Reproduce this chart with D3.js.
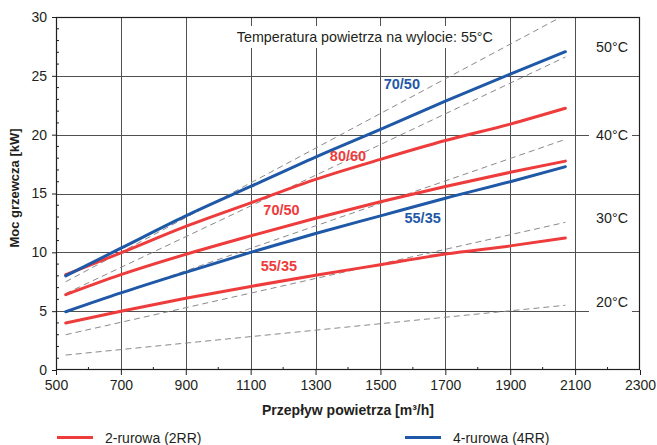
<!DOCTYPE html>
<html>
<head>
<meta charset="utf-8">
<script src="https://cdn.jsdelivr.net/npm/d3@7"></script>
<style>
  html, body { margin: 0; padding: 0; background: #fff; }
  svg { display: block; font-family: "Liberation Sans", Arial, sans-serif; }
</style>
</head>
<body>
<svg id="chart" width="657" height="445"></svg>
<script>
// Airflow points at which the heater output was read [m³/h]
const flow = [530, 700, 900, 1100, 1300, 1500, 1700, 1900, 2070];

// Heating output [kW], 2-pipe heater (2RR)
const red8060 = [8.1, 9.95, 12.2, 14.2, 16.2, 17.9, 19.5, 20.9, 22.24];
const red7050 = [6.4, 8.1, 9.83, 11.4, 12.9, 14.3, 15.6, 16.8, 17.75];
const red5535 = [4.0, 5.0, 6.1, 7.1, 8.05, 8.95, 9.85, 10.55, 11.22];

// Heating output [kW], 4-pipe heater (4RR)
const blue7050 = [8.0, 10.35, 13.1, 15.6, 18.1, 20.45, 22.85, 25.15, 27.05];
const blue5535 = [4.95, 6.55, 8.3, 10.0, 11.6, 13.1, 14.6, 16.0, 17.28];

// Constant outlet air temperature lines (output at the first and last flow)
const isoFlow = [530, 2070];
const iso55 = [7.5, 30.2];
const iso50 = [6.5, 26.6];
const iso40 = [4.9, 19.6];
const iso30 = [3.0, 12.55];
const iso20 = [1.27, 5.5];

// Axis ticks
const xTicks = [500, 700, 900, 1100, 1300, 1500, 1700, 1900, 2100, 2300];
const yTicks = [0, 5, 10, 15, 20, 25, 30];

const RED = "#ee3b3b", BLUE = "#1f58a7", GRID = "#505050", DASH = "#8a8a8a";

const svg = d3.select("#chart");
const L = 56, R = 640, T = 17, B = 370;

const x = d3.scaleLinear().domain([500, 2300]).range([L, R]);
const y = d3.scaleLinear().domain([0, 30]).range([B, T]);

svg.append("defs").append("clipPath").attr("id", "plot")
  .append("rect").attr("x", L).attr("y", T).attr("width", R - L).attr("height", B - T);

// Grid
const grid = svg.append("g").attr("stroke", GRID).attr("stroke-width", 1);
xTicks.slice(1, -1).forEach(v => {
  grid.append("line").attr("x1", Math.round(x(v)) + 0.5).attr("x2", Math.round(x(v)) + 0.5)
    .attr("y1", T).attr("y2", B);
});
yTicks.slice(1, -1).forEach(v => {
  grid.append("line").attr("x1", L).attr("x2", R)
    .attr("y1", Math.round(y(v)) + 0.5).attr("y2", Math.round(y(v)) + 0.5);
});

// Title box inside the plot
const title = "Temperatura powietrza na wylocie: 55°C";
svg.append("rect").attr("x", 233).attr("y", 26).attr("width", 263).attr("height", 22).attr("fill", "#fff");
svg.append("text").attr("x", x(1452)).attr("y", y(28.3)).attr("dy", "0.35em")
  .attr("text-anchor", "middle").attr("font-size", 14.3).attr("fill", "#231f20").text(title);

// Outlet temperature labels on the right, with a white patch over the grid
const tempLabels = [["50°C", 27.45], ["40°C", 20.0], ["30°C", 12.92], ["20°C", 5.8]];
tempLabels.forEach(([t, v]) => {
  svg.append("rect").attr("x", 589).attr("y", y(v) - 10).attr("width", 43)
    .attr("height", t === "20°C" ? 24 : 20).attr("fill", "#fff");
  svg.append("text").attr("x", x(2214)).attr("y", y(v)).attr("dy", "0.36em")
    .attr("text-anchor", "middle").attr("font-size", 14.3).attr("fill", "#231f20").text(t);
});

const plot = svg.append("g").attr("clip-path", "url(#plot)");

// Dashed constant-temperature lines
const straight = d3.line().x(d => x(d[0])).y(d => y(d[1]));
[iso55, iso50, iso40, iso30, iso20].forEach(vals => {
  plot.append("path").datum(isoFlow.map((f, i) => [f, vals[i]]))
    .attr("d", straight).attr("fill", "none").attr("stroke", DASH)
    .attr("stroke-width", 1).attr("stroke-dasharray", "6,4");
});

// Heater output curves
const curve = d3.line().x(d => x(d[0])).y(d => y(d[1])).curve(d3.curveMonotoneX);
[[red5535, RED], [red7050, RED], [blue5535, BLUE], [red8060, RED], [blue7050, BLUE]].forEach(([vals, c]) => {
  plot.append("path").datum(flow.map((f, i) => [f, vals[i]]))
    .attr("d", curve).attr("fill", "none").attr("stroke", c)
    .attr("stroke-width", 3).attr("stroke-linecap", "round");
});

// Curve labels (supply/return water temperature)
const curveLabels = [
  ["70/50", 1566, 24.3, BLUE],
  ["80/60", 1400, 18.19, RED],
  ["70/50", 1195, 13.6, RED],
  ["55/35", 1630, 12.9, BLUE],
  ["55/35", 1187, 8.84, RED]
];
curveLabels.forEach(([t, fx, fy, c]) => {
  svg.append("text").attr("x", x(fx)).attr("y", y(fy)).attr("dy", "0.36em")
    .attr("text-anchor", "middle").attr("font-size", 14.5).attr("font-weight", "bold")
    .attr("fill", c).text(t);
});

// Axes
const axisColor = "#231f20";
const xAxis = svg.append("g").attr("transform", `translate(0,${B})`)
  .call(d3.axisBottom(x).tickValues(xTicks).tickSize(5).tickPadding(5).tickFormat(d3.format("d")));
const yAxis = svg.append("g").attr("transform", `translate(${L},0)`)
  .call(d3.axisLeft(y).tickValues(yTicks).tickSize(4).tickPadding(5));
[xAxis, yAxis].forEach(a => {
  a.select(".domain").remove();
  a.selectAll("line").attr("stroke", axisColor);
  a.selectAll("text").attr("font-size", 14).attr("fill", axisColor)
    .attr("font-family", "Liberation Sans, Arial, sans-serif");
});

// Minor ticks pointing into the plot
const minorX = d3.range(600, 2300, 200);
svg.append("g").selectAll("line").data(minorX).join("line")
  .attr("x1", d => x(d)).attr("x2", d => x(d)).attr("y1", B).attr("y2", B - 3)
  .attr("stroke", axisColor);
const minorY = d3.range(1, 30).filter(v => v % 5 !== 0);
svg.append("g").selectAll("line").data(minorY).join("line")
  .attr("x1", L).attr("x2", L + 3).attr("y1", d => y(d)).attr("y2", d => y(d))
  .attr("stroke", axisColor);

// Frame
svg.append("rect").attr("x", L + 0.5).attr("y", T + 0.5).attr("width", R - L - 1).attr("height", B - T - 1)
  .attr("fill", "none").attr("stroke", axisColor).attr("stroke-width", 1.2);

// Axis titles
svg.append("text").attr("x", (L + R) / 2).attr("y", 415).attr("text-anchor", "middle")
  .attr("font-size", 14).attr("font-weight", "bold").attr("fill", axisColor)
  .text("Przepływ powietrza [m³/h]");
svg.append("text").attr("transform", "translate(18.5,188) rotate(-90)").attr("text-anchor", "middle")
  .attr("font-size", 13).attr("font-weight", "bold").attr("fill", axisColor)
  .text("Moc grzewcza [kW]");

// Legend
const legend = [["2-rurowa (2RR)", RED, 57], ["4-rurowa (4RR)", BLUE, 405]];
legend.forEach(([t, c, lx]) => {
  svg.append("line").attr("x1", lx).attr("x2", lx + 36).attr("y1", 437.5).attr("y2", 437.5)
    .attr("stroke", c).attr("stroke-width", 3);
  svg.append("text").attr("x", lx + 48).attr("y", 437.5).attr("dy", "0.36em")
    .attr("font-size", 14).attr("fill", axisColor).text(t);
});
</script>
</body>
</html>
